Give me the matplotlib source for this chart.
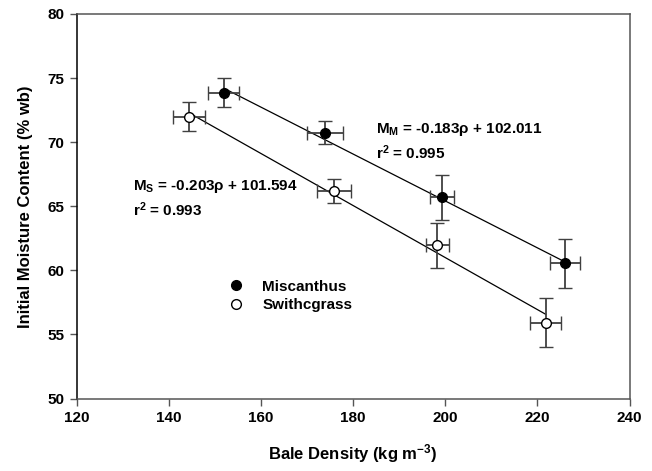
import matplotlib
matplotlib.use("Agg")
import matplotlib.pyplot as plt
import numpy as np
from matplotlib.lines import Line2D

plt.rcParams['font.family'] = ['Liberation Sans', 'DejaVu Sans']
plt.rcParams['font.weight'] = 'bold'
plt.rcParams['mathtext.default'] = 'regular'

# bale density (kg m^-3) and initial moisture content (% wb)
mis_rho = [151.9, 173.9, 199.3, 225.9]
mis_mc = [73.87, 70.75, 65.71, 60.55]
mis_rho_err = [3.4, 3.9, 2.6, 3.25]
mis_mc_err = [1.1, 0.93, 1.75, 1.89]

swg_rho = [144.4, 175.9, 198.3, 221.8]
swg_mc = [72.0, 66.2, 61.95, 55.93]
swg_rho_err = [3.4, 3.7, 2.45, 3.36]
swg_mc_err = [1.1, 0.91, 1.73, 1.89]

# linear fits  M = a*rho + b
mis_fit = (-0.183, 102.011, 0.995)
swg_fit = (-0.203, 101.594, 0.993)

fig = plt.figure(figsize=(6.52, 4.71), dpi=100)
ax = fig.add_axes([0.1176, 0.1539, 0.8481, 0.8164])

for rho, (a, b, r2) in [(mis_rho, mis_fit), (swg_rho, swg_fit)]:
    xx = np.array([min(rho), max(rho)])
    ax.plot(xx, a * xx + b, color='black', lw=0.9, zorder=2)

ax.errorbar(mis_rho, mis_mc, xerr=mis_rho_err, yerr=mis_mc_err, fmt='o',
            ms=7, mfc='black', mec='black', mew=1, ecolor='#404040',
            elinewidth=1.3, capsize=4.8, capthick=1.3, zorder=3)
ax.errorbar(swg_rho, swg_mc, xerr=swg_rho_err, yerr=swg_mc_err, fmt='o',
            ms=7, mfc='white', mec='black', mew=1, ecolor='#404040',
            elinewidth=1.3, capsize=4.8, capthick=1.3, zorder=3)

ax.text(184.9, 71.0, 'M$_M$ = %.3fρ + %.3f' % (mis_fit[0], mis_fit[1]),
        fontsize=11, fontweight='bold', va='center')
ax.text(184.9, 69.2, 'r$^2$ = %.3f' % mis_fit[2],
        fontsize=11, fontweight='bold', va='center')
ax.text(132.3, 66.55, 'M$_S$ = %.3fρ + %.3f' % (swg_fit[0], swg_fit[1]),
        fontsize=11, fontweight='bold', va='center')
ax.text(132.3, 64.75, 'r$^2$ = %.3f' % swg_fit[2],
        fontsize=11, fontweight='bold', va='center')

handles = [Line2D([], [], ls='none', marker='o', ms=7, mfc='black', mec='black'),
           Line2D([], [], ls='none', marker='o', ms=7, mfc='white', mec='black')]
ax.legend(handles, ['Miscanthus', 'Swithcgrass'], loc='upper left',
          bbox_to_anchor=(0.25, 0.325), frameon=False, fontsize=11,
          handletextpad=0.7, labelspacing=0.3, borderaxespad=0)

ax.set_xlim(120, 240)
ax.set_ylim(50, 80)
ax.set_xticks(range(120, 241, 20))
ax.set_yticks(range(50, 81, 5))
ax.tick_params(direction='out', length=5, width=1, color='#555555',
               labelsize=11, pad=4)
for s in ax.spines.values():
    s.set_linewidth(1.1)
    s.set_color('#555555')
ax.spines['left'].set_color('black')

ax.set_xlabel('Bale Density (kg m$^{-3}$)', fontsize=12, fontweight='bold', labelpad=12)
ax.set_ylabel('Initial Moisture Content (% wb)', fontsize=12, fontweight='bold', labelpad=10)

fig.savefig('out.png', dpi=100)
